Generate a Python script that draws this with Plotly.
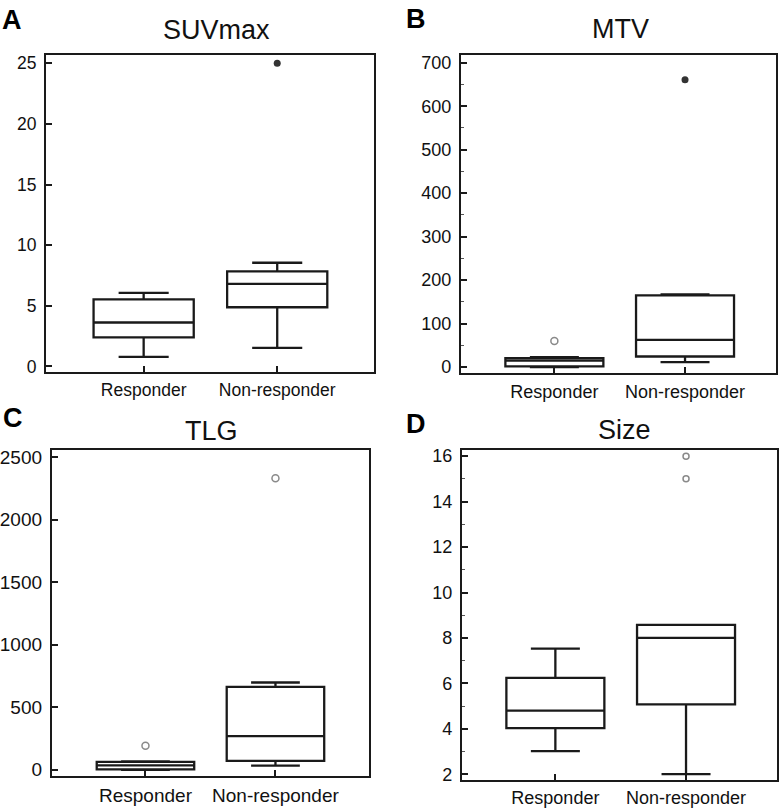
import plotly.graph_objects as go

categories = ["Responder", "Non-responder"]

# Panel A: SUVmax
suv_q1 = [2.4, 4.88]
suv_median = [3.62, 6.8]
suv_q3 = [5.53, 7.84]
suv_lower = [0.79, 1.53]
suv_upper = [6.07, 8.55]
suv_out_filled_x = ["Non-responder"]
suv_out_filled_y = [25.0]
suv_out_open_x = []
suv_out_open_y = []

# Panel B: MTV
mtv_q1 = [1.5, 24.4]
mtv_median = [15.0, 62.4]
mtv_q3 = [20.5, 165.0]
mtv_lower = [0.0, 11.4]
mtv_upper = [23.0, 167.0]
mtv_out_filled_x = ["Non-responder"]
mtv_out_filled_y = [661.0]
mtv_out_open_x = ["Responder"]
mtv_out_open_y = [60.0]

# Panel C: TLG
tlg_q1 = [2.0, 71.0]
tlg_median = [34.0, 269.0]
tlg_q3 = [63.0, 662.0]
tlg_lower = [-2.0, 32.0]
tlg_upper = [66.0, 697.0]
tlg_out_filled_x = []
tlg_out_filled_y = []
tlg_out_open_x = ["Responder", "Non-responder"]
tlg_out_open_y = [192.0, 2331.0]

# Panel D: Size
size_q1 = [4.03, 5.08]
size_median = [4.8, 8.0]
size_q3 = [6.24, 8.58]
size_lower = [3.02, 2.01]
size_upper = [7.53, 8.58]
size_out_filled_x = []
size_out_filled_y = []
size_out_open_x = ["Non-responder", "Non-responder"]
size_out_open_y = [16.0, 15.0]

titles = ["SUVmax", "MTV", "TLG", "Size"]
letters = ["A", "B", "C", "D"]

LINE = "#1a1a1a"
FONT = "Liberation Sans, Arial, sans-serif"

panels = [
    dict(q1=suv_q1, med=suv_median, q3=suv_q3, lo=suv_lower, hi=suv_upper,
         fx=suv_out_filled_x, fy=suv_out_filled_y, ox=suv_out_open_x, oy=suv_out_open_y,
         xdom=[44/780, 373/780], ydom=[(810-373)/810, (810-53)/810],
         xr=[-0.732, 1.725], yr=[-0.49, 25.65], dtick=5, minor=None, osize=7, fs=17.5),
    dict(q1=mtv_q1, med=mtv_median, q3=mtv_q3, lo=mtv_lower, hi=mtv_upper,
         fx=mtv_out_filled_x, fy=mtv_out_filled_y, ox=mtv_out_open_x, oy=mtv_out_open_y,
         xdom=[460/780, 775.7/780], ydom=[(810-374)/810, (810-52.7)/810],
         xr=[-0.716, 1.694], yr=[-14.3, 717.4], dtick=100, minor=50, osize=7, fs=18),
    dict(q1=tlg_q1, med=tlg_median, q3=tlg_q3, lo=tlg_lower, hi=tlg_upper,
         fx=tlg_out_filled_x, fy=tlg_out_filled_y, ox=tlg_out_open_x, oy=tlg_out_open_y,
         xdom=[50/780, 368/780], ydom=[(810-781)/810, (810-451.7)/810],
         xr=[-0.72, 1.72], yr=[-53, 2555], dtick=500, minor=None, osize=7, fs=19),
    dict(q1=size_q1, med=size_median, q3=size_q3, lo=size_lower, hi=size_upper,
         fx=size_out_filled_x, fy=size_out_filled_y, ox=size_out_open_x, oy=size_out_open_y,
         xdom=[461/780, 776.7/780], ydom=[(810-784.3)/810, (810-451)/810],
         xr=[-0.716, 1.694], yr=[1.77, 16.29], dtick=2, minor=1, osize=6, fs=18),
]

fig = go.Figure()
layout = dict(
    width=780, height=810,
    margin=dict(l=0, r=0, t=0, b=0),
    paper_bgcolor="white", plot_bgcolor="white",
    showlegend=False,
    font=dict(family=FONT, color="#111111"),
)

for i, p in enumerate(panels):
    n = "" if i == 0 else str(i + 1)
    xa, ya = "x" + n, "y" + n
    fig.add_trace(go.Box(
        x=categories, q1=p["q1"], median=p["med"], q3=p["q3"],
        lowerfence=p["lo"], upperfence=p["hi"],
        width=0.75, whiskerwidth=0.5, boxpoints=False,
        line=dict(color=LINE, width=2.3), fillcolor="rgba(0,0,0,0)",
        xaxis=xa, yaxis=ya, hoverinfo="skip",
    ))
    if p["fx"]:
        fig.add_trace(go.Scatter(
            x=p["fx"], y=p["fy"], mode="markers",
            marker=dict(symbol="circle", size=p["osize"], color="#333333"),
            xaxis=xa, yaxis=ya, hoverinfo="skip",
        ))
    if p["ox"]:
        fig.add_trace(go.Scatter(
            x=p["ox"], y=p["oy"], mode="markers",
            marker=dict(symbol="circle-open", size=p["osize"], color="#8a8a8a",
                        line=dict(width=1.5, color="#8a8a8a")),
            xaxis=xa, yaxis=ya, hoverinfo="skip",
        ))
    xkey = "xaxis" + n
    ykey = "yaxis" + n
    layout[xkey] = dict(
        domain=p["xdom"], anchor=ya, type="category",
        categoryorder="array", categoryarray=categories,
        range=p["xr"], showgrid=False, zeroline=False,
        showline=True, linecolor=LINE, linewidth=2, mirror=True,
        ticks="inside", ticklen=6, tickwidth=1.5, tickcolor=LINE,
        tickfont=dict(size=p["fs"], color="#111111", family=FONT),
        ticklabelstandoff=1,
    )
    yd = dict(
        domain=p["ydom"], anchor=xa, range=p["yr"],
        tick0=0, dtick=p["dtick"], showgrid=False, zeroline=False,
        showline=True, linecolor=LINE, linewidth=2, mirror=True,
        ticks="inside", ticklen=6, tickwidth=1.5, tickcolor=LINE,
        tickfont=dict(size=p["fs"], color="#111111", family=FONT),
        ticklabelstandoff=4,
    )
    if p["minor"]:
        yd["minor"] = dict(dtick=p["minor"], tick0=0, ticks="inside", ticklen=3,
                           tickwidth=1, tickcolor="#555555", showgrid=False)
    layout[ykey] = yd

fig.update_layout(**layout)

title_pos = [(215, 27), (620, 26), (210, 432), (624, 431)]
letter_pos = [(10, 17), (415, 16), (11, 419), (415, 425)]
for i in range(4):
    tx, ty = title_pos[i]
    fig.add_annotation(text=titles[i], x=tx/780, y=1 - ty/810, xref="paper", yref="paper",
                       showarrow=False, xanchor="center", yanchor="middle",
                       font=dict(size=27, color="#111111", family=FONT))
    lx, ly = letter_pos[i]
    fig.add_annotation(text="<b>" + letters[i] + "</b>", x=lx/780, y=1 - ly/810,
                       xref="paper", yref="paper", showarrow=False,
                       xanchor="center", yanchor="middle",
                       font=dict(size=27, color="#000000", family=FONT))

fig.write_html("out.html", config={"displayModeBar": False},
               post_script="document.body.style.margin='0';")
